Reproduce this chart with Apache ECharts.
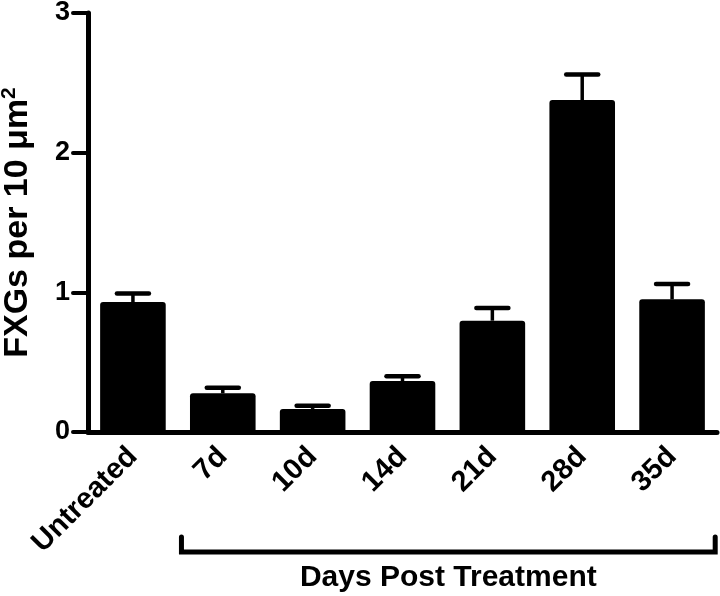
<!DOCTYPE html>
<html>
<head>
<meta charset="utf-8">
<script src="https://cdn.jsdelivr.net/npm/echarts@6/dist/echarts.min.js"></script>
<style>
html,body{margin:0;padding:0;background:#fff;}
#chart{width:720px;height:596px;}
</style>
</head>
<body>
<div id="chart"></div>
<script>
var categories = ['Untreated', '7d', '10d', '14d', '21d', '28d', '35d'];
var means = [0.93, 0.277, 0.165, 0.365, 0.797, 2.377, 0.95];
var sems = [0.062, 0.040, 0.023, 0.035, 0.090, 0.183, 0.110];
var yTicks = [0, 1, 2, 3];
var groupLabel = 'Days Post Treatment';
var yTitle = 'FXGs per 10 μm';

var FONT = '"Liberation Sans", Arial, Helvetica, sans-serif';
var chart = echarts.init(document.getElementById('chart'));

var errData = means.map(function (m, i) { return [i, m, m + sems[i]]; });

chart.setOption({
  animation: false,
  backgroundColor: '#fff',
  grid: { left: 88, right: 3, top: 13, bottom: 164, containLabel: false, outerBoundsMode: 'none' },
  xAxis: {
    type: 'category',
    data: categories,
    axisLine: { lineStyle: { color: '#000', width: 5 } },
    axisTick: { alignWithLabel: true, length: 14, lineStyle: { color: '#000', width: 4, cap: 'round' } },
    axisLabel: { rotate: 45, margin: 20, color: '#000', fontSize: 29, fontWeight: 'bold', fontFamily: FONT }
  },
  yAxis: {
    type: 'value',
    min: yTicks[0],
    max: yTicks[yTicks.length - 1],
    interval: 1,
    splitLine: { show: false },
    axisLine: { show: true, lineStyle: { color: '#000', width: 5 } },
    axisTick: { show: true, length: 15, lineStyle: { color: '#000', width: 4, cap: 'round' } },
    axisLabel: { margin: 18, color: '#000', fontSize: 27, fontWeight: 'bold', fontFamily: FONT },
    name: yTitle + '{sup|2}',
    nameLocation: 'middle',
    nameRotate: 90,
    nameGap: 52,
    nameTextStyle: {
      color: '#000', fontSize: 34, fontWeight: 'bold', fontFamily: FONT,
      rich: { sup: { fontSize: 21, fontWeight: 'bold', fontFamily: FONT, color: '#000', verticalAlign: 'top', padding: [0, 0, 16, 0] } }
    }
  },
  series: [
    {
      type: 'bar',
      data: means,
      barWidth: '73%',
      itemStyle: { color: '#000', borderRadius: [3, 3, 0, 0] },
      z: 2
    },
    {
      type: 'custom',
      data: errData,
      z: 3,
      renderItem: function (params, api) {
        var x = api.value(0);
        var lo = api.coord([x, api.value(1)]);
        var hi = api.coord([x, api.value(2)]);
        var half = 16;
        return {
          type: 'group',
          children: [
            { type: 'line', shape: { x1: lo[0], y1: lo[1], x2: hi[0], y2: hi[1] }, style: { stroke: '#000', lineWidth: 3.5 } },
            { type: 'line', shape: { x1: hi[0] - half, y1: hi[1], x2: hi[0] + half, y2: hi[1] }, style: { stroke: '#000', lineWidth: 4.5, lineCap: 'round' } }
          ]
        };
      }
    }
  ]
});

// bracket for the treatment group
var p1 = chart.convertToPixel({ xAxisIndex: 0 }, categories[1]);
var p2 = chart.convertToPixel({ xAxisIndex: 0 }, categories[categories.length - 1]);
var band = chart.convertToPixel({ xAxisIndex: 0 }, categories[2]) - p1;
var bl = p1 - 0.46 * band, br = p2 + 0.48 * band;
var by = 552, bTop = 537;
chart.setOption({
  graphic: [
    { type: 'polyline', shape: { points: [[bl, bTop], [bl, by], [br, by], [br, bTop]] },
      style: { stroke: '#000', lineWidth: 5, fill: null, lineCap: 'round', lineJoin: 'miter' } },
    { type: 'text', x: (bl + br) / 2, y: 578,
      style: { text: groupLabel, fill: '#000', font: 'bold 30px ' + FONT, textAlign: 'center', textVerticalAlign: 'middle' } }
  ]
});
</script>
</body>
</html>
